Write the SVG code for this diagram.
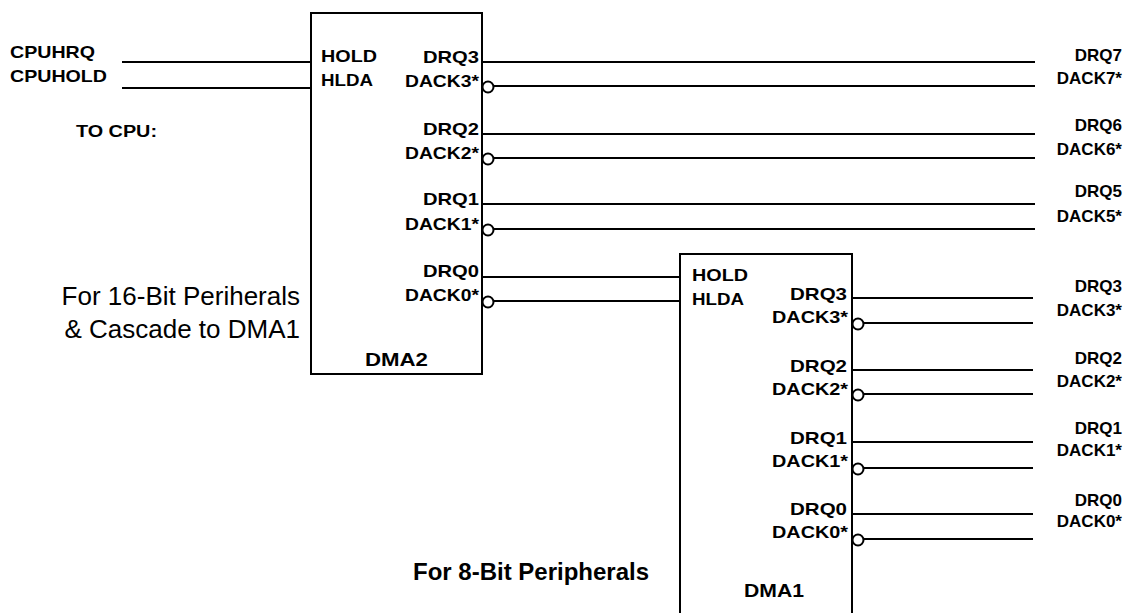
<svg xmlns="http://www.w3.org/2000/svg" width="1130" height="613" viewBox="0 0 1130 613">
<style>
.box{fill:none;stroke:#000;stroke-width:2}
.w{stroke:#000;stroke-width:2;fill:none}
.b{fill:#fff;stroke:#000;stroke-width:2}
.s{font-family:"Liberation Sans",Arial,sans-serif;font-size:17px;font-weight:bold;fill:#000}
.r{text-anchor:end}
.big{font-family:"Liberation Sans",Arial,sans-serif;font-size:26px;fill:#000}
.lbl{font-family:"Liberation Sans",Arial,sans-serif;font-size:18px;font-weight:bold;fill:#000}
</style>
<rect width="1130" height="613" fill="#fff"/>
<g id="connectors">
<path class="w" d="M122,62H311M122,88H311"/>
<path class="w" d="M482,62H1035M493,86H1035M482,134H1035M493,158H1035M482,204H1035M493,229H1035M482,277H680M493,301H680"/>
<path class="w" d="M852,298H1033M863,323H1033M852,370H1033M863,394H1033M852,442H1033M863,468H1033M852,514H1033M863,539H1033"/>
</g>
<g id="cpu">
<text class="s" x="10" y="58" textLength="85" lengthAdjust="spacingAndGlyphs">CPUHRQ</text>
<text class="s" x="10" y="82" textLength="97" lengthAdjust="spacingAndGlyphs">CPUHOLD</text>
<text class="s" x="76" y="137" textLength="81" lengthAdjust="spacingAndGlyphs" style="font-size:16px">TO CPU:</text>
</g>
<g id="dma2">
<rect class="box" x="311" y="13" width="171" height="361"/>
<circle class="b" cx="488" cy="87" r="5.5"/>
<circle class="b" cx="488" cy="159" r="5.5"/>
<circle class="b" cx="488" cy="230" r="5.5"/>
<circle class="b" cx="488" cy="302" r="5.5"/>
<text class="s" x="321" y="62" textLength="56" lengthAdjust="spacingAndGlyphs">HOLD</text>
<text class="s" x="321" y="86" textLength="52" lengthAdjust="spacingAndGlyphs">HLDA</text>
<text class="s" x="423" y="63" textLength="56" lengthAdjust="spacingAndGlyphs">DRQ3</text>
<text class="s" x="405" y="87" textLength="74" lengthAdjust="spacingAndGlyphs">DACK3*</text>
<text class="s" x="423" y="135" textLength="56" lengthAdjust="spacingAndGlyphs">DRQ2</text>
<text class="s" x="405" y="159" textLength="74" lengthAdjust="spacingAndGlyphs">DACK2*</text>
<text class="s" x="423" y="205" textLength="56" lengthAdjust="spacingAndGlyphs">DRQ1</text>
<text class="s" x="405" y="230" textLength="74" lengthAdjust="spacingAndGlyphs">DACK1*</text>
<text class="s" x="423" y="277" textLength="56" lengthAdjust="spacingAndGlyphs">DRQ0</text>
<text class="s" x="405" y="301" textLength="74" lengthAdjust="spacingAndGlyphs">DACK0*</text>
<text class="lbl" x="365" y="366" textLength="63" lengthAdjust="spacingAndGlyphs">DMA2</text>
</g>
<g id="dma1">
<path class="box" d="M680,620V254H852V620"/>
<circle class="b" cx="858" cy="324" r="5.5"/>
<circle class="b" cx="858" cy="395" r="5.5"/>
<circle class="b" cx="858" cy="469" r="5.5"/>
<circle class="b" cx="858" cy="540" r="5.5"/>
<text class="s" x="692" y="281" textLength="56" lengthAdjust="spacingAndGlyphs">HOLD</text>
<text class="s" x="692" y="305" textLength="52" lengthAdjust="spacingAndGlyphs">HLDA</text>
<text class="s" x="790" y="300" textLength="57" lengthAdjust="spacingAndGlyphs">DRQ3</text>
<text class="s" x="772" y="323" textLength="76" lengthAdjust="spacingAndGlyphs">DACK3*</text>
<text class="s" x="790" y="372" textLength="57" lengthAdjust="spacingAndGlyphs">DRQ2</text>
<text class="s" x="772" y="395" textLength="76" lengthAdjust="spacingAndGlyphs">DACK2*</text>
<text class="s" x="790" y="444" textLength="57" lengthAdjust="spacingAndGlyphs">DRQ1</text>
<text class="s" x="772" y="467" textLength="76" lengthAdjust="spacingAndGlyphs">DACK1*</text>
<text class="s" x="790" y="515" textLength="57" lengthAdjust="spacingAndGlyphs">DRQ0</text>
<text class="s" x="772" y="538" textLength="76" lengthAdjust="spacingAndGlyphs">DACK0*</text>
<text class="lbl" x="744" y="597" textLength="60" lengthAdjust="spacingAndGlyphs">DMA1</text>
</g>
<g id="right-labels">
<text class="s r" x="1122" y="61">DRQ7</text>
<text class="s r" x="1122" y="84">DACK7*</text>
<text class="s r" x="1122" y="131">DRQ6</text>
<text class="s r" x="1122" y="155">DACK6*</text>
<text class="s r" x="1122" y="197">DRQ5</text>
<text class="s r" x="1122" y="222">DACK5*</text>
<text class="s r" x="1122" y="292">DRQ3</text>
<text class="s r" x="1122" y="316">DACK3*</text>
<text class="s r" x="1122" y="364">DRQ2</text>
<text class="s r" x="1122" y="387">DACK2*</text>
<text class="s r" x="1122" y="434">DRQ1</text>
<text class="s r" x="1122" y="456">DACK1*</text>
<text class="s r" x="1122" y="506">DRQ0</text>
<text class="s r" x="1122" y="527">DACK0*</text>
</g>
<g id="captions">
<text class="big r" x="300" y="305">For 16-Bit Periherals</text>
<text class="big r" x="300" y="338">&amp; Cascade to DMA1</text>
<text class="big" x="413" y="580" style="font-size:24px;font-weight:bold">For 8-Bit Peripherals</text>
</g>
</svg>
